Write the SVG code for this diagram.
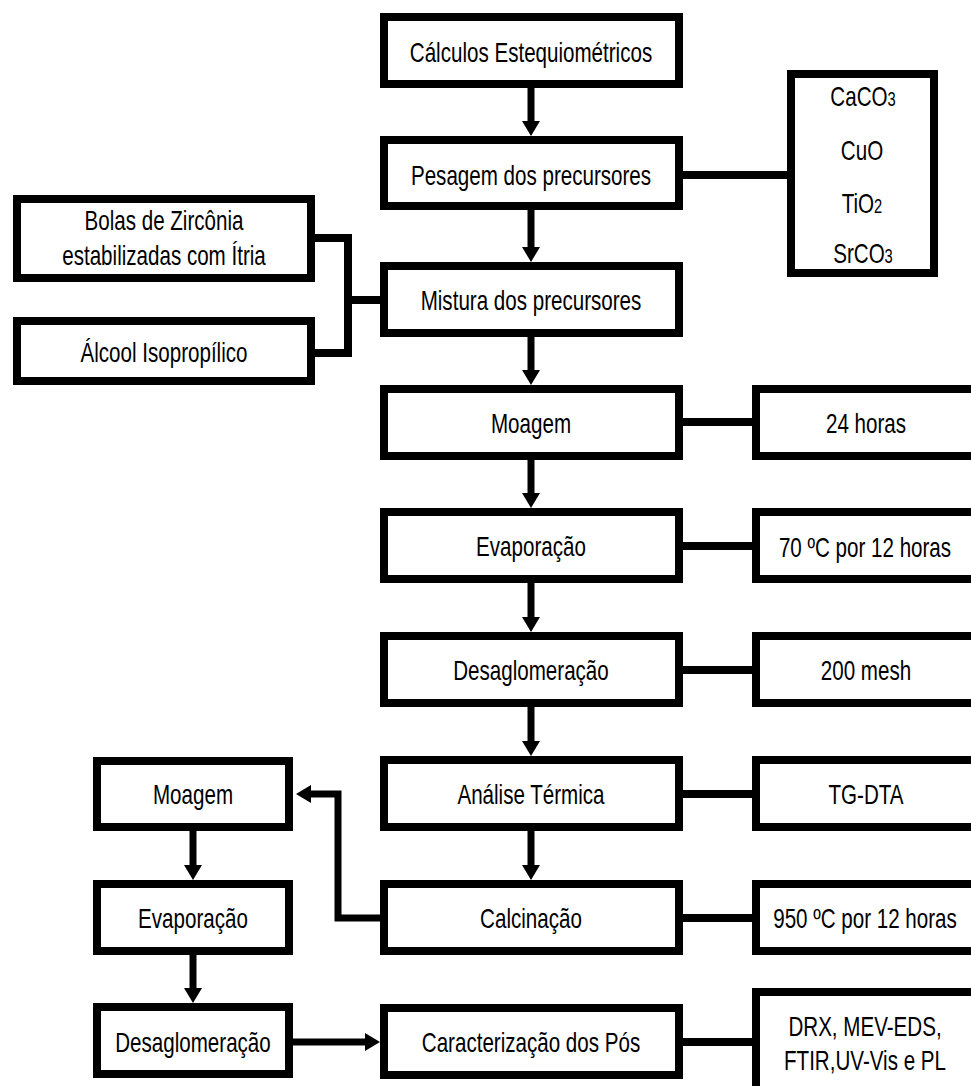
<svg xmlns="http://www.w3.org/2000/svg" width="971" height="1086" viewBox="0 0 971 1086">
<style>
.box{fill:#fff;stroke:#000;stroke-width:8}
.t{font-family:"Liberation Sans",Arial,sans-serif;font-size:28px;fill:#000;text-anchor:middle}
.sub{font-size:20px}
.ln{fill:none;stroke:#000;stroke-width:8}
.ar{fill:none;stroke:#000;stroke-width:7;marker-end:url(#ah)}
</style>
<defs>
<marker id="ah" viewBox="0 0 15 18" refX="2" refY="9" markerWidth="15" markerHeight="18" markerUnits="userSpaceOnUse" orient="auto">
<path d="M0,0 L15,9 L0,18 z" fill="#000"/>
</marker>
</defs>
<rect width="971" height="1086" fill="#fff"/>
<g id="connectors">
<line class="ar" x1="531" y1="88" x2="531" y2="123"/>
<line class="ar" x1="531" y1="210" x2="531" y2="249"/>
<line class="ar" x1="531" y1="337" x2="531" y2="372"/>
<line class="ar" x1="531" y1="460" x2="531" y2="495"/>
<line class="ar" x1="531" y1="583" x2="531" y2="619"/>
<line class="ar" x1="531" y1="707" x2="531" y2="743"/>
<line class="ar" x1="531" y1="831" x2="531" y2="867"/>
<line class="ar" x1="193" y1="831" x2="193" y2="867"/>
<line class="ar" x1="193" y1="955" x2="193" y2="990"/>
<polyline class="ar" points="380,918 338,918 338,794 309,794"/>
<line class="ar" x1="293" y1="1042" x2="367" y2="1042"/>
<line class="ln" x1="683" y1="175" x2="787" y2="175"/>
<polyline class="ln" points="315,238 348,238 348,353 315,353"/>
<line class="ln" x1="348" y1="300" x2="380" y2="300"/>
<line class="ln" x1="683" y1="422" x2="752" y2="422"/>
<line class="ln" x1="683" y1="546" x2="752" y2="546"/>
<line class="ln" x1="683" y1="670" x2="752" y2="670"/>
<line class="ln" x1="683" y1="794" x2="752" y2="794"/>
<line class="ln" x1="683" y1="918" x2="752" y2="918"/>
<line class="ln" x1="683" y1="1042" x2="752" y2="1042"/>
</g>
<g id="n-calculos"><rect class="box" x="384" y="17" width="295" height="67"/><text class="t" transform="translate(531,62) scale(0.735,1)">Cálculos Estequiométricos</text></g>
<g id="n-pesagem"><rect class="box" x="384" y="140" width="295" height="66"/><text class="t" transform="translate(531,185) scale(0.735,1)">Pesagem dos precursores</text></g>
<g id="n-lista"><rect class="box" x="791" y="74" width="143" height="199"/>
<text class="t" transform="translate(863,106) scale(0.735,1)">CaCO<tspan class="sub">3</tspan></text>
<text class="t" transform="translate(862,160) scale(0.735,1)">CuO</text>
<text class="t" transform="translate(862,213) scale(0.735,1)">TiO<tspan class="sub">2</tspan></text>
<text class="t" transform="translate(863,263) scale(0.735,1)">SrCO<tspan class="sub">3</tspan></text></g>
<g id="n-bolas"><rect class="box" x="17" y="199" width="294" height="79"/><text class="t" transform="translate(164,230) scale(0.735,1)">Bolas de Zircônia</text><text class="t" transform="translate(164,265) scale(0.735,1)">estabilizadas com Ítria</text></g>
<g id="n-alcool"><rect class="box" x="17" y="321" width="294" height="60"/><text class="t" transform="translate(164,362) scale(0.735,1)">Álcool Isopropílico</text></g>
<g id="n-mistura"><rect class="box" x="384" y="266" width="295" height="67"/><text class="t" transform="translate(531,310) scale(0.735,1)">Mistura dos precursores</text></g>
<g id="n-moagem"><rect class="box" x="384" y="389" width="295" height="67"/><text class="t" transform="translate(531,433) scale(0.735,1)">Moagem</text></g>
<g id="n-24h"><rect class="box" x="756" y="389" width="240" height="67"/><text class="t" transform="translate(866,433) scale(0.735,1)">24 horas</text></g>
<g id="n-evap"><rect class="box" x="384" y="512" width="295" height="67"/><text class="t" transform="translate(531,556) scale(0.735,1)">Evaporação</text></g>
<g id="n-70c"><rect class="box" x="756" y="512" width="240" height="67"/><text class="t" transform="translate(865,557) scale(0.735,1)">70 ºC por 12 horas</text></g>
<g id="n-desag"><rect class="box" x="384" y="636" width="295" height="67"/><text class="t" transform="translate(531,680) scale(0.735,1)">Desaglomeração</text></g>
<g id="n-200"><rect class="box" x="756" y="636" width="240" height="67"/><text class="t" transform="translate(866,680) scale(0.735,1)">200 mesh</text></g>
<g id="n-analise"><rect class="box" x="384" y="760" width="295" height="67"/><text class="t" transform="translate(531,804) scale(0.735,1)">Análise Térmica</text></g>
<g id="n-tgdta"><rect class="box" x="756" y="760" width="240" height="67"/><text class="t" transform="translate(866,804) scale(0.735,1)">TG-DTA</text></g>
<g id="n-calc"><rect class="box" x="384" y="884" width="295" height="67"/><text class="t" transform="translate(531,928) scale(0.735,1)">Calcinação</text></g>
<g id="n-950"><rect class="box" x="756" y="884" width="240" height="67"/><text class="t" transform="translate(865,928) scale(0.735,1)">950 ºC por 12 horas</text></g>
<g id="n-caract"><rect class="box" x="384" y="1008" width="295" height="67"/><text class="t" transform="translate(531,1052) scale(0.735,1)">Caracterização dos Pós</text></g>
<g id="n-drx"><rect class="box" x="756" y="992" width="240" height="110"/><text class="t" transform="translate(865,1036) scale(0.735,1)">DRX, MEV-EDS,</text><text class="t" transform="translate(865,1070) scale(0.735,1)">FTIR,UV-Vis e PL</text></g>
<g id="n-moagem2"><rect class="box" x="97" y="761" width="192" height="66"/><text class="t" transform="translate(193,804) scale(0.735,1)">Moagem</text></g>
<g id="n-evap2"><rect class="box" x="97" y="884" width="192" height="67"/><text class="t" transform="translate(193,928) scale(0.735,1)">Evaporação</text></g>
<g id="n-desag2"><rect class="box" x="97" y="1007" width="192" height="67"/><text class="t" transform="translate(193,1052) scale(0.735,1)">Desaglomeração</text></g>
</svg>
